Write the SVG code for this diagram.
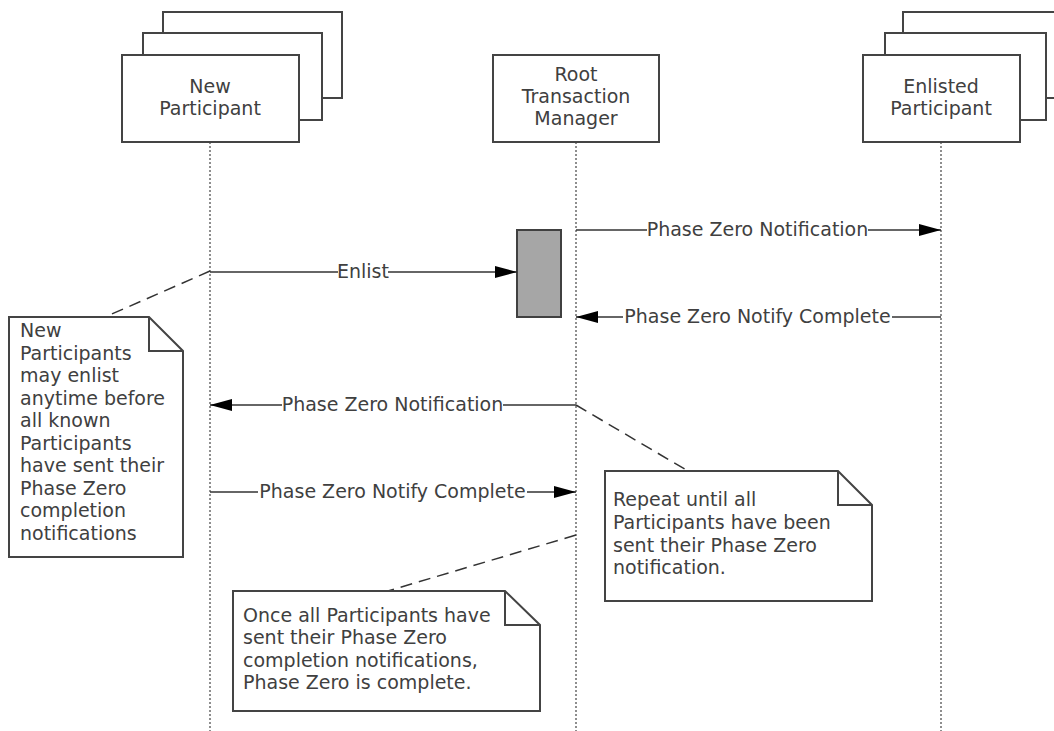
<svg xmlns="http://www.w3.org/2000/svg" width="1054" height="731" viewBox="0 0 1054 731">
<defs>
<style>
.box{fill:#fff;stroke:#444;stroke-width:2}
.act{fill:#a6a6a6;stroke:#404040;stroke-width:2}
.life{stroke:#6a6a6a;stroke-width:1.5;stroke-dasharray:2 2;fill:none}
.msg{stroke:#333;stroke-width:1.5;fill:none;marker-end:url(#arr)}
.dash{stroke:#333;stroke-width:1.5;stroke-dasharray:12 7;fill:none}
.note{fill:#fff;stroke:#444;stroke-width:2}
.fold{fill:none;stroke:#444;stroke-width:2}
text{font-family:"DejaVu Sans","Verdana",sans-serif;font-size:19px;fill:#404040}
.c{text-anchor:middle}
.lbl{fill:#fff;stroke:none}
</style>
<marker id="arr" viewBox="0 0 22 12" refX="22" refY="6" markerWidth="22" markerHeight="12" markerUnits="userSpaceOnUse" orient="auto">
<path d="M0,0 L22,6 L0,12 Z" fill="#000"/>
</marker>
</defs>
<rect width="1054" height="731" fill="#fff"/>

<g id="lifelines">
<line class="life" x1="210" y1="142" x2="210" y2="731"/>
<line class="life" x1="576" y1="142" x2="576" y2="731"/>
<line class="life" x1="941" y1="142" x2="941" y2="731"/>
</g>

<g id="new-participant">
<rect class="box" x="163" y="12" width="179" height="86"/>
<rect class="box" x="143" y="33" width="179" height="87"/>
<rect class="box" x="122" y="55" width="177" height="87"/>
<text class="c" x="210" y="93">New</text>
<text class="c" x="210" y="115">Participant</text>
</g>

<g id="root-tm">
<rect class="box" x="493" y="55" width="166" height="87"/>
<text class="c" x="576" y="81">Root</text>
<text class="c" x="576" y="103">Transaction</text>
<text class="c" x="576" y="125">Manager</text>
</g>

<g id="enlisted-participant">
<rect class="box" x="903" y="12" width="170" height="86"/>
<rect class="box" x="885" y="33" width="161" height="87"/>
<rect class="box" x="863" y="55" width="157" height="87"/>
<text class="c" x="941" y="93">Enlisted</text>
<text class="c" x="941" y="115">Participant</text>
</g>

<g id="activation">
<rect class="act" x="517" y="230" width="44" height="87"/>
</g>

<g id="connectors">
<line class="msg" x1="576" y1="230" x2="941" y2="230"/>
<rect class="lbl" x="647" y="220" width="221" height="20"/>
<text class="c" x="757.5" y="236">Phase Zero Notification</text>

<line class="msg" x1="210" y1="272" x2="517" y2="272"/>
<rect class="lbl" x="338" y="262" width="50" height="20"/>
<text class="c" x="363" y="278">Enlist</text>

<line class="msg" x1="941" y1="317" x2="576" y2="317"/>
<rect class="lbl" x="623" y="307" width="269" height="20"/>
<text class="c" x="757.5" y="323">Phase Zero Notify Complete</text>

<line class="msg" x1="576" y1="405" x2="210" y2="405"/>
<rect class="lbl" x="282" y="395" width="221" height="20"/>
<text class="c" x="392.5" y="411">Phase Zero Notification</text>

<line class="msg" x1="210" y1="492" x2="576" y2="492"/>
<rect class="lbl" x="258" y="482" width="269" height="20"/>
<text class="c" x="392.5" y="498">Phase Zero Notify Complete</text>

<line class="dash" x1="210" y1="271" x2="105" y2="317"/>
<line class="dash" x1="576" y1="405" x2="688" y2="471"/>
<line class="dash" x1="576" y1="535" x2="388" y2="591"/>
</g>

<g id="note-enlist">
<path class="note" d="M9,317 H149 L183,351 V557 H9 Z"/>
<path class="fold" d="M149,317 V351 H183"/>
<text x="20" y="337">New</text>
<text x="20" y="359.5">Participants</text>
<text x="20" y="382">may enlist</text>
<text x="20" y="404.5">anytime before</text>
<text x="20" y="427">all known</text>
<text x="20" y="449.5">Participants</text>
<text x="20" y="472">have sent their</text>
<text x="20" y="494.5">Phase Zero</text>
<text x="20" y="517">completion</text>
<text x="20" y="539.5">notifications</text>
</g>

<g id="note-repeat">
<path class="note" d="M605,471 H838 L872,505 V601 H605 Z"/>
<path class="fold" d="M838,471 V505 H872"/>
<text x="613" y="506">Repeat until all</text>
<text x="613" y="529">Participants have been</text>
<text x="613" y="552">sent their Phase Zero</text>
<text x="613" y="574">notification.</text>
</g>

<g id="note-complete">
<path class="note" d="M233,591 H505 L540,625 V711 H233 Z"/>
<path class="fold" d="M505,591 V625 H540"/>
<text x="243" y="622">Once all Participants have</text>
<text x="243" y="644">sent their Phase Zero</text>
<text x="243" y="667">completion notifications,</text>
<text x="243" y="689">Phase Zero is complete.</text>
</g>
</svg>
